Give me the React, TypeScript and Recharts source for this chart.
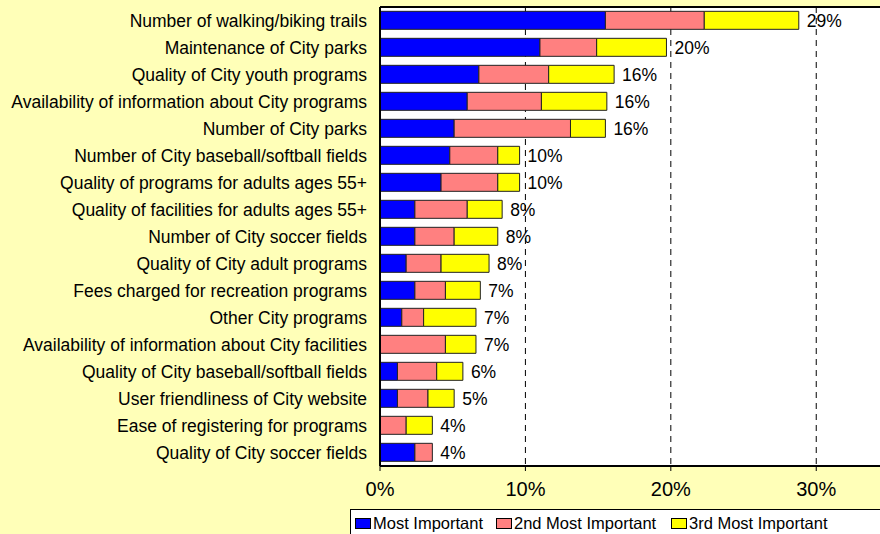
import React from "react";
import { BarChart, Bar, XAxis, YAxis, CartesianGrid, LabelList } from "recharts";

const categories = [
  "Number of walking/biking trails",
  "Maintenance of City parks",
  "Quality of City youth programs",
  "Availability of information about City programs",
  "Number of City parks",
  "Number of City baseball/softball fields",
  "Quality of programs for adults ages 55+",
  "Quality of facilities for adults ages 55+",
  "Number of City soccer fields",
  "Quality of City adult programs",
  "Fees charged for recreation programs",
  "Other City programs",
  "Availability of information about City facilities",
  "Quality of City baseball/softball fields",
  "User friendliness of City website",
  "Ease of registering for programs",
  "Quality of City soccer fields",
];

const mostImportant = [15.5, 11.0, 6.8, 6.0, 5.1, 4.8, 4.2, 2.4, 2.4, 1.8, 2.4, 1.5, 0, 1.2, 1.2, 0, 2.4];
const secondMost = [6.8, 3.9, 4.8, 5.1, 8.0, 3.3, 3.9, 3.6, 2.7, 2.4, 2.1, 1.5, 4.5, 2.7, 2.1, 1.8, 1.2];
const thirdMost = [6.5, 4.8, 4.5, 4.5, 2.4, 1.5, 1.5, 2.4, 3.0, 3.3, 2.4, 3.6, 2.1, 1.8, 1.8, 1.8, 0];
const totalLabels = [29, 20, 16, 16, 16, 10, 10, 8, 8, 8, 7, 7, 7, 6, 5, 4, 4];

const xTicks = [0, 10, 20, 30];

const seriesNames = ["Most Important", "2nd Most Important", "3rd Most Important"];
const seriesColors = ["#0000FF", "#FF8080", "#FFFF00"];

const data = categories.map((name, i) => ({
  name,
  first: mostImportant[i],
  second: secondMost[i],
  third: thirdMost[i],
  total: totalLabels[i],
}));

const FONT = "'Liberation Sans', Arial, sans-serif";
const BG = "#FFFFB8";
const labelStyle = { fontSize: 17.5, fill: "#000", fontFamily: FONT };
const fmt = (v: any) => (v == null ? "" : `${v}%`);

export default function App() {
  return (
    <div
      style={{
        position: "fixed",
        left: 0,
        top: 0,
        width: 880,
        height: 534,
        overflow: "hidden",
        background: BG,
        fontFamily: FONT,
      }}
    >
      <BarChart
        width={900}
        height={534}
        data={data}
        layout="vertical"
        margin={{ top: 6, right: 0, bottom: 0, left: 0 }}
        barCategoryGap="16%"
        style={{ fontFamily: FONT }}
      >
        <CartesianGrid
          horizontal={false}
          vertical={true}
          stroke="#000"
          strokeDasharray="6 5"
          fill="#FFFFFF"
          fillOpacity={1}
        />
        <XAxis
          type="number"
          domain={[0, 35.76]}
          ticks={xTicks}
          allowDataOverflow
          tickFormatter={(v) => `${v}%`}
          height={68}
          axisLine={{ stroke: "#000", strokeWidth: 2 }}
          tickLine={{ stroke: "#000" }}
          tickSize={5}
          tickMargin={11}
          tick={{ fontSize: 20, fill: "#000", fontFamily: FONT }}
        />
        <XAxis
          xAxisId="top"
          orientation="top"
          type="number"
          domain={[0, 35.76]}
          allowDataOverflow
          height={1}
          tick={false}
          tickLine={false}
          axisLine={{ stroke: "#000", strokeWidth: 2 }}
        />
        <YAxis
          type="category"
          dataKey="name"
          width={380}
          interval={0}
          tickSize={0}
          tickLine={false}
          tickMargin={13}
          axisLine={{ stroke: "#000", strokeWidth: 2 }}
          tick={{ fontSize: 17.5, fill: "#000", fontFamily: FONT }}
        />
        <Bar dataKey="first" stackId="a" name={seriesNames[0]} fill={seriesColors[0]} stroke="#222" strokeWidth={1} isAnimationActive={false} />
        <Bar dataKey="second" stackId="a" name={seriesNames[1]} fill={seriesColors[1]} stroke="#222" strokeWidth={1} isAnimationActive={false}>
          <LabelList
            dataKey={(d: any) => (d.third === 0 ? d.total : null)}
            position="right"
            offset={8}
            formatter={fmt}
            style={labelStyle}
          />
        </Bar>
        <Bar dataKey="third" stackId="a" name={seriesNames[2]} fill={seriesColors[2]} stroke="#222" strokeWidth={1} isAnimationActive={false}>
          <LabelList
            dataKey={(d: any) => (d.third > 0 ? d.total : null)}
            position="right"
            offset={8}
            formatter={fmt}
            style={labelStyle}
          />
        </Bar>
      </BarChart>
      <div
        style={{
          position: "absolute",
          left: 350,
          top: 509,
          width: 560,
          height: 40,
          background: "#FFFFFF",
          border: "1px solid #000",
          boxSizing: "border-box",
          fontSize: 16.5,
          color: "#000",
        }}
      >
        {seriesNames.map((n, i) => (
          <div
            key={n}
            style={{
              position: "absolute",
              left: [4, 145, 320][i],
              top: 3,
              display: "flex",
              alignItems: "center",
              whiteSpace: "nowrap",
              lineHeight: "20px",
            }}
          >
            <span
              style={{
                display: "inline-block",
                width: 14,
                height: 9,
                background: seriesColors[i],
                border: "1px solid #000",
                marginRight: 2,
              }}
            />
            {n}
          </div>
        ))}
      </div>
    </div>
  );
}
